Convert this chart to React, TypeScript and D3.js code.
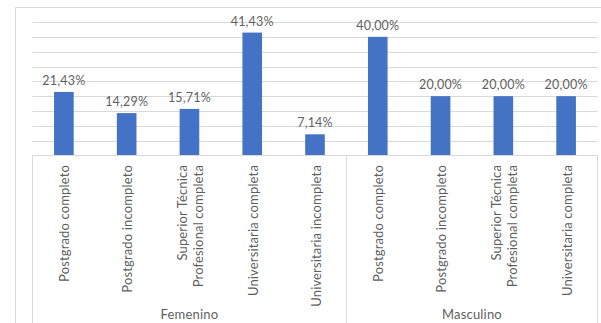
import React from "react";
import * as d3 from "d3";

const groups = ["Femenino", "Masculino"];
const categories = [
  ["Postgrado completo"],
  ["Postgrado incompleto"],
  ["Superior Técnica", "Profesional completa"],
  ["Universitaria completa"],
  ["Universitaria incompleta"],
  ["Postgrado completo"],
  ["Postgrado incompleto"],
  ["Superior Técnica", "Profesional completa"],
  ["Universitaria completa"],
];
const categoryGroup = [0, 0, 0, 0, 0, 1, 1, 1, 1];
const values = [21.43, 14.29, 15.71, 41.43, 7.14, 40.0, 20.0, 20.0, 20.0];
const yTicks = [0, 5, 10, 15, 20, 25, 30, 35, 40, 45];

const W = 601;
const H = 323;
const left = 32.5;
const right = 597.5;
const top = 22;
const base = 155.5;
const FONT = "Lato, 'Noto Sans', sans-serif";

export default function App() {
  const x = d3
    .scaleBand<number>()
    .domain(d3.range(categories.length))
    .range([left, right])
    .paddingInner(0.6875)
    .paddingOuter(0.34375);
  const band = d3.scaleBand<number>().domain(d3.range(categories.length)).range([left, right]);
  const y = d3.scaleLinear().domain([0, 45]).range([base, top]);
  const fmt = (v: number) => v.toFixed(2).replace(".", ",") + "%";

  const groupBounds = groups.map((_, gi) => {
    const idx = categoryGroup.map((g, i) => (g === gi ? i : -1)).filter((i) => i >= 0);
    const x0 = band(idx[0])!;
    const x1 = band(idx[idx.length - 1])! + band.bandwidth();
    return [x0, x1];
  });

  return (
    <svg
      width={W}
      height={H}
      style={{ position: "absolute", left: 0, top: 0, background: "#fff" }}
      fontFamily={FONT}
    >
      <rect x={15.5} y={7.5} width={W} height={H} fill="#fff" stroke="#d9d9d9" />
      {yTicks.slice(1).map((t) => (
        <line key={t} x1={left} x2={right} y1={Math.round(y(t)) + 0.5} y2={Math.round(y(t)) + 0.5} stroke="#d9d9d9" />
      ))}
      {values.map((v, i) => (
        <rect key={i} x={x(i)} y={y(v)} width={x.bandwidth()} height={base - y(v)} fill="#4472c4" />
      ))}
      {values.map((v, i) => (
        <text
          key={"l" + i}
          x={x(i)! + x.bandwidth() / 2}
          y={y(v) - 7}
          textAnchor="middle"
          fontSize={12.5}
          letterSpacing={0.2}
          fill="#5f5f5f"
        >
          {fmt(v)}
        </text>
      ))}
      <line x1={left} x2={right} y1={base} y2={base} stroke="#d9d9d9" />
      {[left, groupBounds[0][1], right].map((xx, i) => (
        <line key={"v" + i} x1={xx} x2={xx} y1={base} y2={H + 5} stroke="#d9d9d9" />
      ))}
      {categories.map((lines, i) => {
        const cx = band(i)! + band.bandwidth() / 2;
        const n = lines.length;
        return (
          <g key={"c" + i} transform={`translate(${cx},165) rotate(-90)`}>
            {lines.map((ln, j) => {
              const off = (j - (n - 1) / 2) * 15.5 + 5.5;
              return (
                <text
                  key={j}
                  x={0}
                  y={off}
                  textAnchor="end"
                  fontSize={13}
                  letterSpacing={0.15}
                  fill="#5f5f5f"
                >
                  {ln}
                </text>
              );
            })}
          </g>
        );
      })}
      {groups.map((g, gi) => (
        <text
          key={g}
          x={(groupBounds[gi][0] + groupBounds[gi][1]) / 2}
          y={318.5}
          textAnchor="middle"
          fontSize={13}
          letterSpacing={0.2}
          fill="#5f5f5f"
        >
          {g}
        </text>
      ))}
    </svg>
  );
}
